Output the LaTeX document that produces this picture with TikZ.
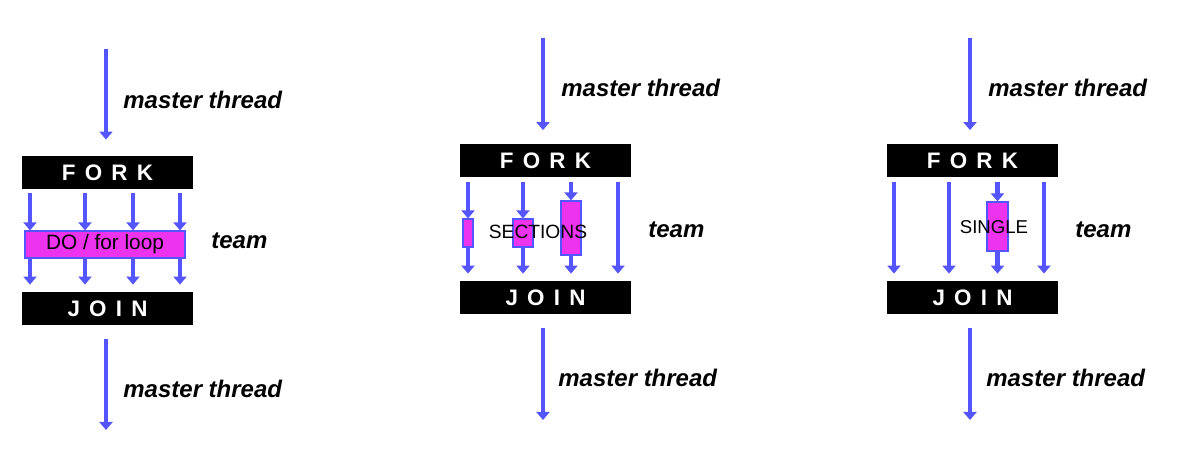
\documentclass[tikz,border=0pt]{standalone}
\usepackage{fontspec}
\setmainfont{Liberation Sans}
\usetikzlibrary{arrows.meta}
\definecolor{threadblue}{RGB}{85,85,255}
\definecolor{taskpink}{RGB}{238,51,238}
\newcommand{\gap}{\hspace{4.6pt}}

\tikzset{
  thread/.style={threadblue, line width=2.3pt, -{Triangle[width=6.5pt,length=4pt]}},
  forkbar/.style={fill=black, text=white, font=\fontsize{11.2}{12}\selectfont\bfseries,
    minimum width=85.5pt, minimum height=16.5pt, inner sep=0pt},
  taskbox/.style={fill=taskpink, draw=threadblue, line width=0.6pt, inner sep=0pt},
  threadlabel/.style={font=\fontsize{12}{14}\selectfont\bfseries\itshape, inner sep=0pt, anchor=west},
  tasktext/.style={font=\fontsize{9.6}{11}\selectfont, inner sep=0pt},
}

\begin{document}
\begin{tikzpicture}[x=0.5pt,y=-0.5pt]
  \useasboundingbox (0,0) rectangle (1194,464);

  % DO / for loop
  \node[forkbar] (fork1) at (107.5,172.5) {F\gap O\gap R\gap K};
  \node[forkbar] (join1) at (107.5,308.5) {J\gap O\gap I\gap N};
  \node[taskbox, minimum width=80pt, minimum height=13.5pt,
    font=\fontsize{10.4}{12}\selectfont] (loop) at (105,244.5) {DO / for loop};
  \coordinate (in1) at (106,49);
  \coordinate (out1) at (106,430);
  \draw[thread, shorten >=8pt] (in1) -- (in1 |- fork1.north);
  \draw[thread, shorten <=7pt] (out1 |- join1.south) -- (out1);
  \foreach \x in {30,85,133,180}{
    \draw[thread, shorten <=2pt] (\x,0 |- fork1.south) -- (\x,0 |- loop.north);
    \draw[thread, shorten >=3.5pt] (\x,0 |- loop.south) -- (\x,0 |- join1.north);
  };

  % SECTIONS
  \node[forkbar] (fork2) at (545.5,161) {F\gap O\gap R\gap K};
  \node[forkbar] (join2) at (545.5,297.5) {J\gap O\gap I\gap N};
  \node[taskbox, minimum width=5pt, minimum height=14pt] (sec1) at (468,233) {};
  \node[taskbox, minimum width=10pt, minimum height=14pt] (sec2) at (523,233) {};
  \node[taskbox, minimum width=10pt, minimum height=27pt] (sec3) at (571,228) {};
  \coordinate (in2) at (543,38);
  \coordinate (out2) at (543,420);
  \draw[thread, shorten >=7pt] (in2) -- (in2 |- fork2.north);
  \draw[thread, shorten <=7pt] (out2 |- join2.south) -- (out2);
  \foreach \b in {sec1,sec2,sec3}{
    \draw[thread, shorten <=2pt] (fork2.south -| \b) -- (\b.north);
    \draw[thread, shorten >=3.5pt] (\b.south) -- (join2.north -| \b);
  };
  \draw[thread, shorten <=2pt, shorten >=3.5pt] (618,0 |- fork2.south) -- (618,0 |- join2.north);
  \node[tasktext] (sectext) at (538,232) {SECTIONS};

  % SINGLE
  \node[forkbar] (fork3) at (972.5,161) {F\gap O\gap R\gap K};
  \node[forkbar] (join3) at (972.5,297.5) {J\gap O\gap I\gap N};
  \node[taskbox, minimum width=10.5pt, minimum height=24.5pt] (single) at (997.5,226.5) {};
  \coordinate (in3) at (970,38);
  \coordinate (out3) at (970,420);
  \draw[thread, shorten >=7pt] (in3) -- (in3 |- fork3.north);
  \draw[thread, shorten <=7pt] (out3 |- join3.south) -- (out3);
  \draw[thread, shorten <=2pt] (fork3.south -| single) -- (single.north);
  \draw[thread, shorten >=3.5pt] (single.south) -- (join3.north -| single);
  \foreach \x in {894,949,1044}
    \draw[thread, shorten <=2pt, shorten >=3.5pt] (\x,0 |- fork3.south) -- (\x,0 |- join3.north);
  \node[tasktext, font=\fontsize{9.3}{11}\selectfont] (singletext) at (994,227) {SINGLE};

  % labels
  \node[threadlabel] (master1) at (123,100) {master thread};
  \node[threadlabel] (master2) at (123,389) {master thread};
  \node[threadlabel] (master3) at (561,88) {master thread};
  \node[threadlabel] (master4) at (558,378) {master thread};
  \node[threadlabel] (master5) at (988,88) {master thread};
  \node[threadlabel] (master6) at (986,378) {master thread};
  \node[threadlabel] (team1) at (211,241) {team};
  \node[threadlabel] (team2) at (648,230) {team};
  \node[threadlabel] (team3) at (1075,230) {team};
\end{tikzpicture}
\end{document}
